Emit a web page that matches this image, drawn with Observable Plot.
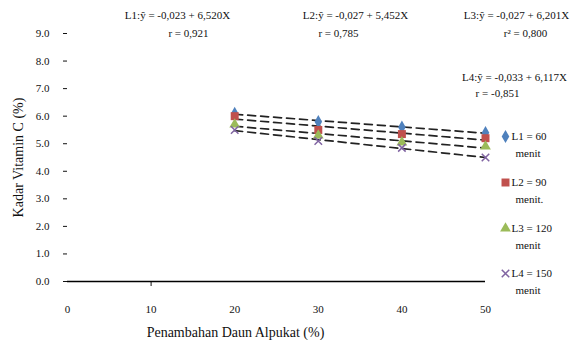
<!DOCTYPE html>
<html>
<head>
<meta charset="utf-8">
<script src="https://cdn.jsdelivr.net/npm/d3@7"></script>
<script src="https://cdn.jsdelivr.net/npm/@observablehq/plot@0.6"></script>
<style>
  body { margin: 0; background: #fff; }
  #chart svg { overflow: visible; display: block; }
</style>
</head>
<body>
<div id="chart"></div>
<script>
// Categories: Penambahan Daun Alpukat (%)
const categories = [20, 30, 40, 50];
// Kadar Vitamin C (%) per heating time
const L1 = [6.1, 5.8, 5.6, 5.4];
const L2 = [6.0, 5.5, 5.35, 5.2];
const L3 = [5.7, 5.3, 5.05, 4.9];
const L4 = [5.5, 5.1, 4.85, 4.5];
const seriesNames = ["L1 = 60", "L2 = 90", "L3 = 120", "L4 = 150"];
const xTicks = [0, 10, 20, 30, 40, 50];
const yTicks = [0, 1, 2, 3, 4, 5, 6, 7, 8, 9];
const equations = [
  ["L1:ŷ = -0,023 + 6,520X", "r = 0,921"],
  ["L2:ŷ = -0,027 + 5,452X", "r = 0,785"],
  ["L3:ŷ = -0,027 + 6,201X", "r² = 0,800"],
  ["L4:ŷ = -0,033 + 6,117X", "r = -0,851"]
];

const colors = ["#4F81BD", "#C0504D", "#9BBB59", "#8064A2"];
const symbols = ["diamond", "square", "triangle", "times"];
const allSeries = [L1, L2, L3, L4];
const data = allSeries.flatMap((vals, i) =>
  categories.map((c, j) => ({x: c, y: vals[j], s: seriesNames[i]})));

const font = "Liberation Serif, Times New Roman, serif";

// annotation layout (pixel offsets from top-left of frame, text centres)
const eqPos = [
  [[110, -18], [121, 0]],
  [[288, -18], [271, 0]],
  [[449, -18], [458, 0]],
  [[447, 44], [430, 60]]
];
const legendDy = [103, 149, 195, 240];

const marks = [
  Plot.axisY({ticks: yTicks, tickFormat: d => d.toFixed(1), tickSize: 4, tickPadding: 14, label: null, fontSize: 11}),
  Plot.axisX({ticks: xTicks, tickFormat: d => String(d), tickSize: 0, tickPadding: 24, label: null, fontSize: 11}),
  Plot.axisX({ticks: [10], tickFormat: () => "", tickSize: 5, label: null}),
  Plot.ruleY([0], {stroke: "#000", strokeWidth: 1.5}),
  Plot.linearRegressionY(data, {x: "x", y: "y", z: "s", stroke: "#222", strokeWidth: 1.7, strokeDasharray: "8,5", ci: 0})
];

allSeries.forEach((vals, i) => {
  const d = data.filter(r => r.s === seriesNames[i]);
  if (symbols[i] === "times") {
    marks.push(Plot.dot(d, {x: "x", y: "y", symbol: () => "times", stroke: colors[i], r: 3.5, strokeWidth: 1.5}));
  } else {
    marks.push(Plot.dot(d, {x: "x", y: "y", symbol: () => symbols[i], fill: colors[i], r: symbols[i] === "square" ? 4.5 : 4}));
  }
});

// equations
equations.forEach((lines, i) => {
  lines.forEach((t, k) => {
    marks.push(Plot.text([t], {frameAnchor: "top-left", dx: eqPos[i][k][0], dy: eqPos[i][k][1], textAnchor: "middle", lineAnchor: "middle", fontSize: 11, fill: "#111"}));
  });
});

// legend
seriesNames.forEach((name, i) => {
  if (symbols[i] === "times") {
    marks.push(Plot.dot([0], {frameAnchor: "top-right", dx: 20, dy: legendDy[i], symbol: () => "times", stroke: colors[i], r: 3.5, strokeWidth: 1.5}));
  } else {
    marks.push(Plot.dot([0], {frameAnchor: "top-right", dx: 20, dy: legendDy[i], symbol: () => symbols[i], fill: colors[i], r: symbols[i] === "square" ? 4.5 : 4}));
  }
  marks.push(Plot.text([name], {frameAnchor: "top-right", dx: 26, dy: legendDy[i], textAnchor: "start", lineAnchor: "middle", fontSize: 11, fill: "#111"}));
  marks.push(Plot.text([i === 1 ? "menit." : "menit"], {frameAnchor: "top-right", dx: 30, dy: legendDy[i] + 17, textAnchor: "start", lineAnchor: "middle", fontSize: 11, fill: "#111"}));
});

// axis titles
marks.push(Plot.text(["Kadar Vitamin C (%)"], {frameAnchor: "left", rotate: -90, dx: -49, textAnchor: "middle", lineAnchor: "middle", fontSize: 14, fill: "#111"}));
marks.push(Plot.text(["Penambahan Daun Alpukat (%)"], {frameAnchor: "bottom-left", dx: 168, dy: 51, textAnchor: "middle", lineAnchor: "middle", fontSize: 14, fill: "#111"}));

const chart = Plot.plot({
  width: 587,
  height: 340,
  marginLeft: 67,
  marginRight: 102,
  marginTop: 33,
  marginBottom: 59,
  style: {fontFamily: font, fontSize: "11px", color: "#111", background: "#fff"},
  x: {domain: [0, 50]},
  y: {domain: [0, 9]},
  symbol: {type: "identity"},
  marks
});
document.getElementById("chart").appendChild(chart);
</script>
</body>
</html>
